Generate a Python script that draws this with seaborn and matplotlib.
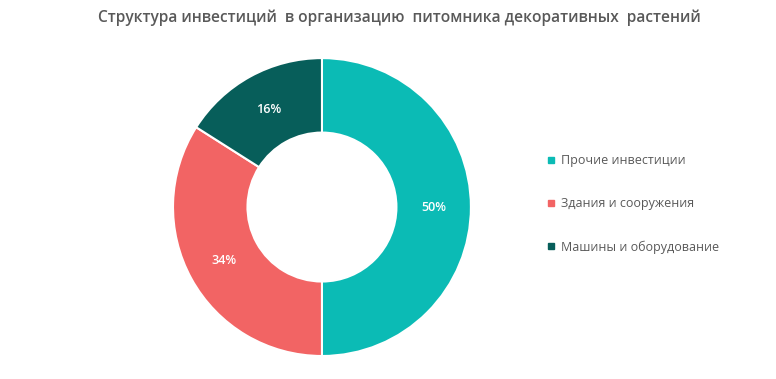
import matplotlib.pyplot as plt
import seaborn as sns
from matplotlib.lines import Line2D

# data
labels = ['Прочие инвестиции', 'Здания и сооружения', 'Машины и оборудование']
shares = [50, 34, 16]
colors = ['#0BBBB5', '#F26464', '#075E5A']

sns.set_theme(style='white')
plt.rcParams['font.family'] = ['Open Sans', 'DejaVu Sans']

fig = plt.figure(figsize=(7.76, 3.79), dpi=100)
ax = fig.add_axes([0.2229, 0.0607, 0.384, 0.786])

wedges, texts, autotexts = ax.pie(
    shares, colors=colors, startangle=90, counterclock=False,
    radius=1, pctdistance=0.75, autopct='%1.0f%%',
    wedgeprops=dict(width=0.5, edgecolor='white', linewidth=1.5),
    textprops=dict(color='white', fontsize=9, fontweight='semibold'))
ax.set_xlim(-1, 1)
ax.set_ylim(-1, 1)
ax.set_aspect('equal')
ax.axis('off')

fig.text(0.515, 0.952, 'Структура инвестиций  в организацию  питомника декоративных  растений',
         ha='center', va='center', fontsize=11.2, fontweight='semibold', color='#595959')

handles = [Line2D([0], [0], marker='s', linestyle='', markersize=5,
                  markerfacecolor=c, markeredgecolor=c) for c in colors]
leg = fig.legend(handles, labels, loc='center left', bbox_to_anchor=(0.691, 0.462),
                 frameon=False, fontsize=9, labelspacing=2.4, handlelength=0.6,
                 handletextpad=0.5, labelcolor='#595959')

fig.savefig('out.png', dpi=100)
